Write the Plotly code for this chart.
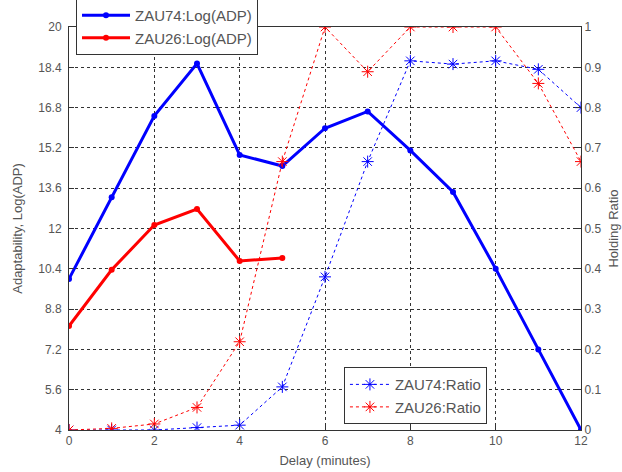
import plotly.graph_objects as go

delay = list(range(13))
zau74_adp_x = list(range(13))
zau74_adp = [10.0, 13.24, 16.47, 18.55, 14.92, 14.48, 15.98, 16.65, 15.1, 13.45, 10.4, 7.2, 4.0]
zau26_adp_x = [0, 1, 2, 3, 4, 5]
zau26_adp = [8.13, 10.36, 12.14, 12.77, 10.71, 10.83]
zau74_ratio = [0.0, 0.0, 0.0, 0.006, 0.012, 0.107, 0.38, 0.666, 0.916, 0.908, 0.916, 0.895, 0.80]
zau26_ratio = [0.0, 0.004, 0.015, 0.056, 0.219, 0.666, 1.0, 0.889, 1.0, 1.0, 1.0, 0.86, 0.666]

left_ticks = [4, 5.6, 7.2, 8.8, 10.4, 12, 13.6, 15.2, 16.8, 18.4, 20]
left_labels = ["4", "5.6", "7.2", "8.8", "10.4", "12", "13.6", "15.2", "16.8", "18.4", "20"]
right_ticks = [0, 0.1, 0.2, 0.3, 0.4, 0.5, 0.6, 0.7, 0.8, 0.9, 1]
right_labels = ["0", "0.1", "0.2", "0.3", "0.4", "0.5", "0.6", "0.7", "0.8", "0.9", "1"]
x_ticks = [0, 2, 4, 6, 8, 10, 12]

fig = go.Figure()
fig.add_trace(go.Scatter(x=zau74_adp_x, y=zau74_adp, name="ZAU74:Log(ADP)", mode="lines+markers",
                         line=dict(color="#0000ff", width=3), marker=dict(size=6, color="#0000ff"),
                         legend="legend", yaxis="y"))
fig.add_trace(go.Scatter(x=zau26_adp_x, y=zau26_adp, name="ZAU26:Log(ADP)", mode="lines+markers",
                         line=dict(color="#ff0000", width=3), marker=dict(size=6, color="#ff0000"),
                         legend="legend", yaxis="y"))
fig.add_trace(go.Scatter(x=delay, y=zau74_ratio, name="ZAU74:Ratio", mode="lines+markers",
                         line=dict(color="#0000ff", width=1, dash="dot"),
                         marker=dict(symbol="asterisk-open", size=10, color="#0000ff",
                                     line=dict(color="#0000ff", width=1)),
                         legend="legend2", yaxis="y2"))
fig.add_trace(go.Scatter(x=delay, y=zau26_ratio, name="ZAU26:Ratio", mode="lines+markers",
                         line=dict(color="#ff0000", width=1, dash="dot"),
                         marker=dict(symbol="asterisk-open", size=10, color="#ff0000",
                                     line=dict(color="#ff0000", width=1)),
                         legend="legend2", yaxis="y2"))

tickfont = dict(family="Liberation Sans, Arial", size=12, color="#555555")
fig.update_layout(
    width=622, height=472,
    margin=dict(l=69, r=41, t=27, b=42, autoexpand=False),
    paper_bgcolor="white", plot_bgcolor="white",
    font=dict(family="Liberation Sans, Arial", size=12, color="#555555"),
    xaxis=dict(range=[0, 12], tickvals=x_ticks, showgrid=True, gridcolor="#333333", griddash="dot",
               gridwidth=1, showline=True, linecolor="#333333", mirror=True, ticks="inside",
               ticklen=5, tickcolor="#333333", zeroline=False, tickfont=tickfont,
               title=dict(text="Delay (minutes)", standoff=8, font=dict(size=13, color="#555555"))),
    yaxis=dict(range=[4, 20], tickvals=left_ticks, ticktext=left_labels, showgrid=True,
               gridcolor="#333333", griddash="dot", gridwidth=1, showline=True, linecolor="#333333",
               ticks="inside", ticklen=5, tickcolor="#333333", zeroline=False, tickfont=tickfont,
               ticklabelstandoff=4,
               title=dict(text="Adaptability, Log(ADP)", standoff=12, font=dict(size=13, color="#555555"))),
    yaxis2=dict(range=[0, 1], tickvals=right_ticks, ticktext=right_labels, overlaying="y", side="right",
                showgrid=False, showline=True, linecolor="#333333", ticks="inside", ticklen=5,
                tickcolor="#333333", zeroline=False, tickfont=tickfont,
                title=dict(text="Holding Ratio", standoff=8, font=dict(size=13, color="#555555"))),
    legend=dict(x=0.0137, y=1.072, xanchor="left", yanchor="top", bgcolor="white",
                bordercolor="#333333", borderwidth=1, font=dict(size=15, color="#555555"),
                tracegroupgap=0, itemwidth=48),
    legend2=dict(x=0.537, y=0.156, xanchor="left", yanchor="top", bgcolor="white",
                 bordercolor="#333333", borderwidth=1, font=dict(size=15, color="#555555"),
                 tracegroupgap=0, itemwidth=40),
)
fig.write_html("out.html")
